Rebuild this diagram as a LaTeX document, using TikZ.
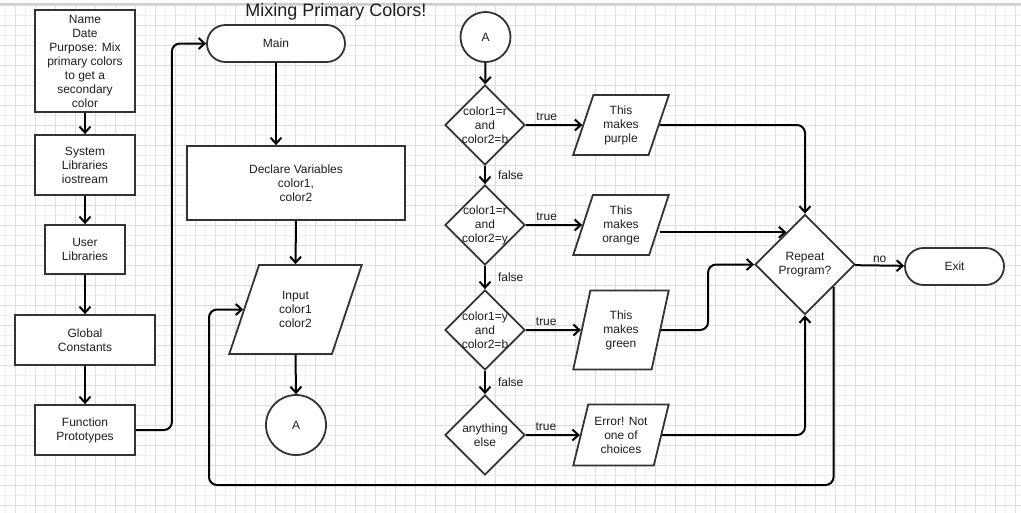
\documentclass[tikz,border=0pt]{standalone}
\usepackage{fontspec}
\setmainfont{Liberation Sans}
\usetikzlibrary{positioning}
\usetikzlibrary{shapes.geometric}
\usetikzlibrary{shapes.misc}
\usetikzlibrary{arrows.meta}

\definecolor{gridmajor}{RGB}{220,220,234}
\definecolor{gridminor}{RGB}{238,238,246}
\definecolor{edgegray}{RGB}{51,51,51}
\definecolor{inkgray}{RGB}{30,30,30}
\definecolor{topgray}{RGB}{205,205,205}

\tikzset{
  shapeline/.style={draw=edgegray, line width=1.8pt, fill=white, text=inkgray,
    font=\fontsize{12}{14}\selectfont, align=center, inner sep=1pt},
  procbox/.style={shapeline, rectangle},
  term/.style={shapeline, rounded rectangle},
  io/.style={shapeline, trapezium, trapezium stretches=true},
  decision/.style={shapeline, diamond, minimum width=80, minimum height=80, inner sep=0pt},
  conn/.style={shapeline, circle},
  flow/.style={draw=black, line width=2pt, ->, rounded corners=8pt},
  lbl/.style={text=inkgray, font=\fontsize{12}{14}\selectfont, align=center, inner sep=2pt},
  >={Straight Barb[length=6pt,width=11pt]}
}

\begin{document}
\begin{tikzpicture}[x=1pt, y=1pt]

\useasboundingbox (0,-512) rectangle (1021,0);
\fill[white] (0,-512) rectangle (1021,0);

% grid paper
\draw[gridminor, line width=0.5pt, step=10pt, xshift=5pt, yshift=-5pt] (-5,-510) grid (1020,8);
\draw[gridmajor, line width=0.8pt, step=20pt, xshift=15pt, yshift=-5pt] (-15,-510) grid (1010,8);
\fill[white] (0,-4) rectangle (1021,0);
\draw[topgray, line width=1.6pt] (0,-4) -- (1021,-4);

\node[lbl, font=\fontsize{18}{20}\selectfont] (title) at (336,-12) {Mixing Primary Colors!};

% left column
\node[procbox, minimum width=100, minimum height=102] (head) at (85,-61)
  {Name\\Date\\Purpose: Mix\\primary colors\\to get a\\secondary\\color};
\node[procbox, minimum width=100, minimum height=60] (syslib) at (85,-165) {System\\Libraries\\iostream};
\node[procbox, minimum width=80, minimum height=49] (usrlib) at (85,-249.5) {User\\Libraries};
\node[procbox, minimum width=140, minimum height=50] (glob) at (85,-340) {Global\\Constants};
\node[procbox, minimum width=100, minimum height=50] (proto) at (85,-430) {Function\\Prototypes};

% main column
\node[term, minimum width=140, minimum height=37] (main) at (276,-43.5) {Main};
\node[procbox, minimum width=218, minimum height=74] (decl) at (296,-183) {Declare Variables\\color1,\\color2};
\node[io, trapezium left angle=69.7, trapezium right angle=110.3,
  minimum width=133, minimum height=89] (input) at (295.5,-309.5) {Input\\color1\\color2};
\node[conn, minimum size=60] (conA) at (296,-425) {A};

% decisions
\node[conn, minimum size=50] (conB) at (485.5,-37) {A};
\node[decision, label={[lbl]center:color1=r\\and\\color2=b}] (d1) at (485,-125) {};
\node[decision, label={[lbl]center:color1=r\\and\\color2=y}] (d2) at (485,-225) {};
\node[decision, label={[lbl]center:color1=y\\and\\color2=b}] (d3) at (485,-330) {};
\node[decision, label={[lbl]center:anything\\else}] (d4) at (485,-435) {};

\node[io, trapezium left angle=71.6, trapezium right angle=108.4,
  minimum width=96, minimum height=60] (p1) at (621,-125) {This\\makes\\purple};
\node[io, trapezium left angle=71.6, trapezium right angle=108.4,
  minimum width=96, minimum height=60] (p2) at (621,-225) {This\\makes\\orange};
\node[io, trapezium left angle=75.8, trapezium right angle=104.2,
  minimum width=96, minimum height=79] (p3) at (621,-330) {This\\makes\\green};
\node[io, trapezium left angle=71.9, trapezium right angle=108.1,
  minimum width=96, minimum height=61] (p4) at (621,-435) {Error! Not\\one of\\choices};

\node[decision, minimum width=100, minimum height=100] (rep) at (805,-264.5) {Repeat\\Program?};
\node[term, minimum width=101, minimum height=37] (exit) at (954.5,-266.5) {Exit};

\coordinate (back) at (209,-485);

% connectors
\draw[flow] (head) -- (syslib);
\draw[flow] (syslib) -- (usrlib);
\draw[flow] (usrlib) -- (glob);
\draw[flow] (glob) -- (proto);
\draw[flow] (proto.east) -- ++(36,0) |- (main.west);
\draw[flow] (main.south) -- (main.south |- decl.north);
\draw[flow] (decl.south) -- (input.north);
\draw[flow] (input.south) -- (conA.north);

\draw[flow] (conB) -- (d1);
\draw[flow] (d1) -- node[lbl, right=10pt] {false} (d2);
\draw[flow] (d2) -- node[lbl, right=10pt] {false} (d3);
\draw[flow] (d3) -- node[lbl, right=10pt] {false} (d4);
\draw[flow] (d1) -- node[lbl, above=1pt, pos=0.37] {true} (p1);
\draw[flow] (d2) -- node[lbl, above=1pt, pos=0.37] {true} (p2);
\draw[flow] (d3) -- node[lbl, above=1pt, pos=0.37] {true} (p3);
\draw[flow] (d4) -- node[lbl, above=1pt, pos=0.37] {true} (p4);

\draw[flow] (p1.east) -| (rep.north);
\draw[flow] (p2.east |- rep.120) -- (rep.120);
\draw[flow] (p3.east) -- ++(47,0) |- (rep.west);
\draw[flow] (p4.east) -| (rep.south);
\draw[flow] (rep) -- node[lbl, above] {no} (exit);
\draw[flow] (rep.-38) |- (back) |- (input.west);

\end{tikzpicture}
\end{document}
